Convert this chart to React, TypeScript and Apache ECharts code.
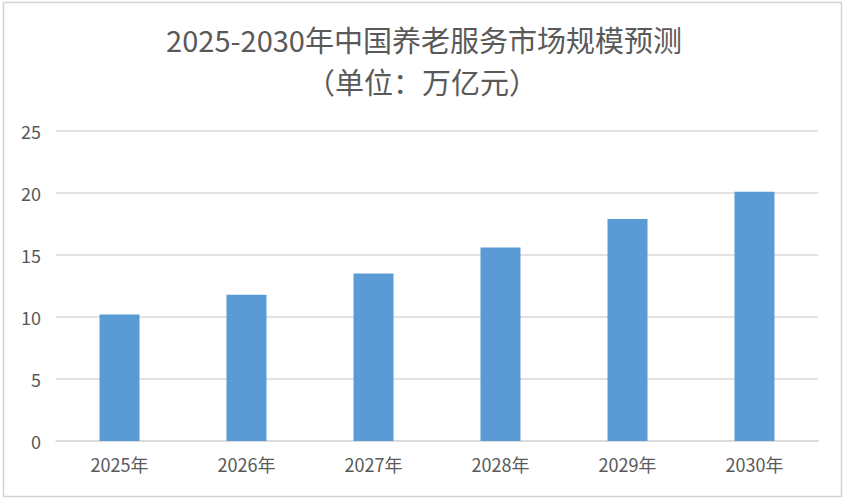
import React, { useEffect, useRef } from "react";
import * as echarts from "echarts";

const categories = ["2025年", "2026年", "2027年", "2028年", "2029年", "2030年"];
const marketSize = [10.2, 11.8, 13.5, 15.6, 17.9, 20.1];
const titleLines = ["2025-2030年中国养老服务市场规模预测", "（单位：万亿元）"];
const yMin = 0;
const yMax = 25;
const yStep = 5;

export default function App() {
  const ref = useRef<HTMLDivElement>(null);
  useEffect(() => {
    if (!ref.current) return;
    const chart = echarts.init(ref.current, null, { renderer: "svg" });
    const font = "'Noto Sans CJK SC', 'Noto Sans', sans-serif";
    const titleStyle = {
      fontFamily: font,
      fontSize: 29,
      fontWeight: "normal",
      fill: "#595959",
      align: "center",
      verticalAlign: "middle",
    };
    chart.setOption({
      animation: false,
      backgroundColor: "#ffffff",
      graphic: [
        {
          type: "rect",
          shape: { x: 3.5, y: 2.5, width: 838, height: 494 },
          style: { fill: "none", stroke: "#d4d4d4", lineWidth: 1.5 },
          silent: true,
          z: -1,
        },
        {
          type: "text",
          x: 424,
          y: 39,
          style: { ...titleStyle, text: titleLines[0] },
        },
        {
          type: "text",
          x: 422,
          y: 81,
          style: { ...titleStyle, text: titleLines[1] },
        },
      ],
      grid: { left: 56, right: 33, top: 131, bottom: 61, containLabel: false },
      xAxis: {
        type: "category",
        data: categories,
        axisLine: { show: true, lineStyle: { color: "#d9d9d9", width: 1.5 } },
        axisTick: { show: false },
        axisLabel: {
          color: "#595959",
          fontSize: 18,
          fontFamily: font,
          margin: 14,
        },
      },
      yAxis: {
        type: "value",
        min: yMin,
        max: yMax,
        interval: yStep,
        axisLine: { show: false },
        axisTick: { show: false },
        splitLine: { lineStyle: { color: "#d9d9d9", width: 1.5 } },
        axisLabel: {
          color: "#595959",
          fontSize: 18,
          fontFamily: font,
          margin: 15,
        },
      },
      series: [
        {
          type: "bar",
          data: marketSize,
          barWidth: "31.5%",
          itemStyle: { color: "#5B9BD5" },
        },
      ],
    });
    return () => chart.dispose();
  }, []);
  return (
    <div
      ref={ref}
      style={{ position: "fixed", left: 0, top: 0, width: 851, height: 502 }}
    />
  );
}
